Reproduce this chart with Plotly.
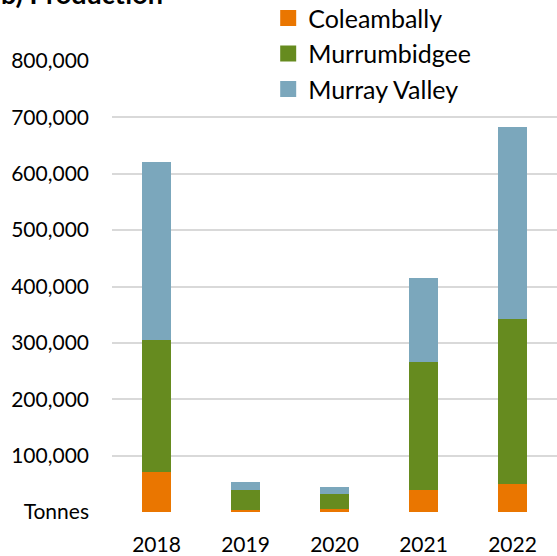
import plotly.graph_objects as go

# Rice production by valley, tonnes
years = ["2018", "2019", "2020", "2021", "2022"]
coleambally = [71000, 3000, 4500, 39000, 49500]
murrumbidgee = [233500, 36500, 27500, 227500, 293000]
murray_valley = [316500, 14500, 11500, 149000, 341000]

y_ticks = [0, 100000, 200000, 300000, 400000, 500000, 600000, 700000, 800000]
y_tick_labels = ["Tonnes", "100,000", "200,000", "300,000", "400,000",
                 "500,000", "600,000", "700,000", "800,000"]

FONT = "Lato, 'Open Sans', Arial, sans-serif"
INK = "#000000"

series = [
    ("Coleambally", coleambally, "#EA7600"),
    ("Murrumbidgee", murrumbidgee, "#668B1F"),
    ("Murray Valley", murray_valley, "#7BA7BC"),
]

fig = go.Figure()
for name, values, colour in series:
    fig.add_trace(go.Bar(
        x=years, y=values, name=name, showlegend=False,
        marker=dict(color=colour, line=dict(width=0)),
    ))

# legend entries drawn as square swatches, like the original
for name, _, colour in series:
    fig.add_trace(go.Scatter(
        x=[None], y=[None], name=name, mode="markers", legendgroup=name,
        marker=dict(symbol="square", size=17, color=colour),
    ))

fig.update_layout(
    barmode="stack",
    bargap=0.685,
    width=557, height=556,
    margin=dict(l=112, r=0, t=61, b=44, autoexpand=False),
    plot_bgcolor="white", paper_bgcolor="white",
    font=dict(family=FONT, color=INK, size=21),
    showlegend=True,
    legend=dict(
        x=0.351, xanchor="left", y=1.146, yanchor="top",
        traceorder="normal", tracegroupgap=0, itemsizing="trace",
        font=dict(size=25, color=INK),
        bgcolor="rgba(0,0,0,0)",
    ),
    xaxis=dict(
        showgrid=False, showline=False, ticks="",
        ticklabelstandoff=18,
        tickfont=dict(size=21),
    ),
    yaxis=dict(
        range=[0, 800000],
        tickvals=y_ticks, ticktext=y_tick_labels,
        showgrid=True, gridcolor="#D9D9D9", gridwidth=2,
        zeroline=False, showline=False, ticks="",
        ticklabelstandoff=22,
        tickfont=dict(size=21),
    ),
)

fig.add_annotation(
    text="<b>b) Production</b>",
    xref="paper", yref="paper",
    x=-0.254, y=1.149, xanchor="left", yanchor="middle",
    showarrow=False, font=dict(size=27, color=INK),
)

# drop the page's default body margin so the chart sits at the window corner
fig.write_html(
    "out.html",
    config={"displayModeBar": False},
    post_script="document.body.style.margin = '0';",
)
